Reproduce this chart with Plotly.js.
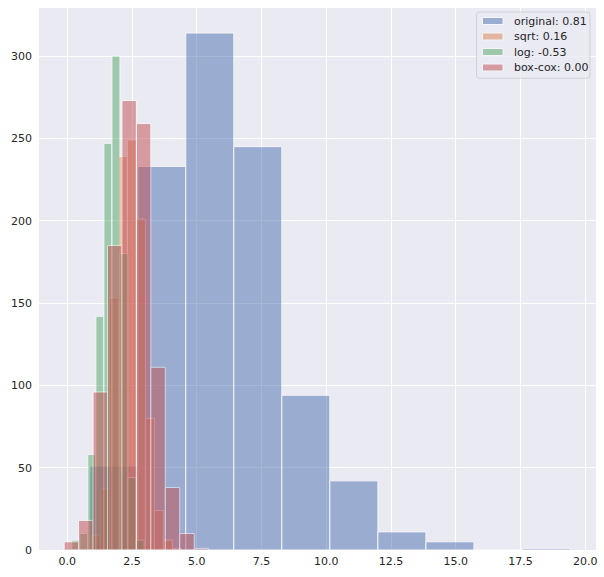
<!DOCTYPE html>
<html>
<head>
<meta charset="utf-8">
<script src="https://cdn.plot.ly/plotly-3.0.1.min.js"></script>
<style>
  html, body { margin: 0; padding: 0; background: #ffffff; }
  #chart { width: 604px; height: 577px; }
</style>
</head>
<body>
<div id="chart"></div>
<script>
// Series labels (legend)
const seriesNames = ['original: 0.81', 'sqrt: 0.16', 'log: -0.53', 'box-cox: 0.00'];

// Histogram counts per bin (10 bins each)
const originalCounts = [51, 233, 314, 245, 94, 42, 11, 5, 0, 1];
const sqrtCounts     = [9, 37, 153, 239, 249, 201, 80, 24, 6, 1];
const logCounts      = [1, 6, 10, 58, 142, 247, 300, 180, 44, 6];
const boxcoxCounts   = [5, 18, 96, 185, 273, 259, 111, 38, 10, 1];

// Bin left edge of the first bin and bin width per series (data units)
const binStarts = [0.865, 0.930, -0.140, -0.124];
const binWidths = [1.8545, 0.3475, 0.3105, 0.5583];

// Axis ticks
const xTicks = [0, 2.5, 5, 7.5, 10, 12.5, 15, 17.5, 20];
const xTickLabels = ['0.0', '2.5', '5.0', '7.5', '10.0', '12.5', '15.0', '17.5', '20.0'];
const yTicks = [0, 50, 100, 150, 200, 250, 300];

const colors = ['#4C72B0', '#DD8452', '#55A868', '#C44E52'];
const allCounts = [originalCounts, sqrtCounts, logCounts, boxcoxCounts];

const W = 604, H = 577;
const M = { l: 39, r: 8, t: 8, b: 27 };
const plotW = W - M.l - M.r, plotH = H - M.t - M.b;
const px2x = (p) => (p - M.l) / plotW;
const px2y = (p) => (H - M.b - p) / plotH;

const traces = allCounts.map((counts, s) => {
  const w = binWidths[s];
  const x = counts.map((_, i) => binStarts[s] + (i + 0.5) * w);
  return {
    type: 'bar',
    name: seriesNames[s],
    x: x,
    y: counts,
    width: counts.map(() => w),
    opacity: 0.5,
    marker: { color: colors[s], line: { color: '#ffffff', width: 1 } },
    hoverinfo: 'x+y',
    showlegend: false
  };
});

const font = { family: 'DejaVu Sans, sans-serif', size: 11, color: '#262626' };

// Matplotlib-style legend box (upper right), drawn as shapes + text
const legBox = { x0: 476.5, x1: 590, y0: 12, y1: 78.3, r: 3 };
const entryY0 = 21, entryStep = 15.5;
const shapes = [];
const annotations = [];
{
  const { x0, x1, y0, y1, r } = legBox;
  const X = px2x, Y = px2y;
  const path = `M ${X(x0 + r)} ${Y(y0)} L ${X(x1 - r)} ${Y(y0)} Q ${X(x1)} ${Y(y0)} ${X(x1)} ${Y(y0 + r)} ` +
    `L ${X(x1)} ${Y(y1 - r)} Q ${X(x1)} ${Y(y1)} ${X(x1 - r)} ${Y(y1)} L ${X(x0 + r)} ${Y(y1)} ` +
    `Q ${X(x0)} ${Y(y1)} ${X(x0)} ${Y(y1 - r)} L ${X(x0)} ${Y(y0 + r)} Q ${X(x0)} ${Y(y0)} ${X(x0 + r)} ${Y(y0)} Z`;
  shapes.push({
    type: 'path', xref: 'paper', yref: 'paper', path: path,
    fillcolor: 'rgba(234,234,242,0.8)', line: { color: 'rgba(204,204,204,0.8)', width: 1 },
    layer: 'above'
  });
}
seriesNames.forEach((name, s) => {
  const cy = entryY0 + s * entryStep;
  shapes.push({
    type: 'rect', xref: 'paper', yref: 'paper',
    x0: px2x(482.5), x1: px2x(503), y0: px2y(cy + 3.5), y1: px2y(cy - 3.5),
    fillcolor: colors[s], opacity: 0.5, line: { color: '#ffffff', width: 1 },
    layer: 'above'
  });
  annotations.push({
    xref: 'paper', yref: 'paper', x: px2x(511.5), y: px2y(cy),
    xanchor: 'left', yanchor: 'middle', showarrow: false,
    text: name, font: font
  });
});

const layout = {
  width: W,
  height: H,
  margin: { l: M.l, r: M.r, t: M.t, b: M.b, pad: 0 },
  paper_bgcolor: '#ffffff',
  plot_bgcolor: '#EAEAF2',
  barmode: 'overlay',
  bargap: 0,
  font: font,
  showlegend: false,
  shapes: shapes,
  annotations: annotations,
  xaxis: {
    range: [-1.093, 20.413],
    tickvals: xTicks,
    ticktext: xTickLabels,
    showgrid: true,
    gridcolor: '#ffffff',
    gridwidth: 1,
    zeroline: false,
    showline: false,
    ticks: '',
    ticklabelstandoff: 3,
    tickfont: font
  },
  yaxis: {
    range: [0, 329.2],
    tickvals: yTicks,
    showgrid: true,
    gridcolor: '#ffffff',
    gridwidth: 1,
    zeroline: false,
    showline: false,
    ticks: '',
    ticklabelstandoff: 6,
    tickfont: font
  }
};

Plotly.newPlot('chart', traces, layout, { displayModeBar: false, staticPlot: true });
</script>
</body>
</html>
